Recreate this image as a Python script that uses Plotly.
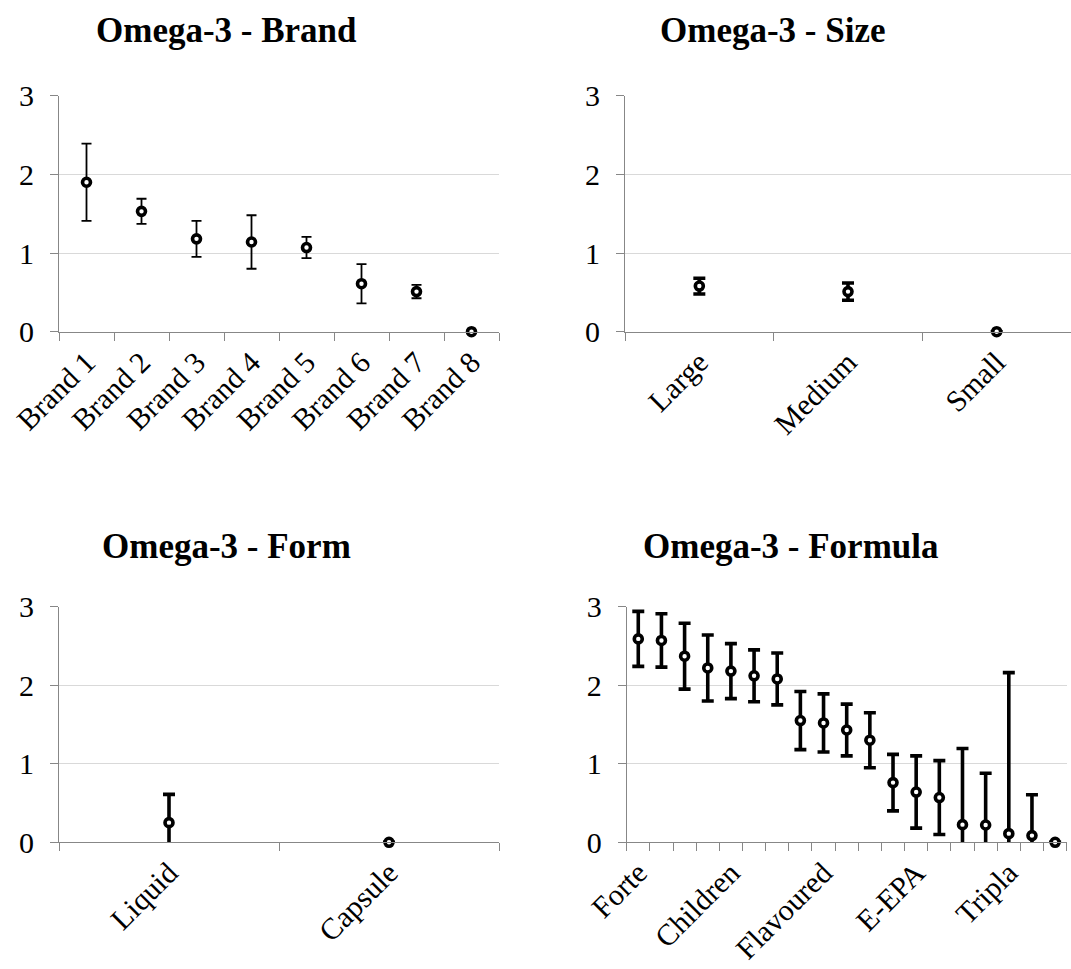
import plotly.graph_objects as go

# ---- data -----------------------------------------------------------------
brand_labels = ["Brand 1", "Brand 2", "Brand 3", "Brand 4", "Brand 5", "Brand 6", "Brand 7", "Brand 8"]
brand_mean = [1.90, 1.53, 1.18, 1.14, 1.07, 0.61, 0.51, 0.0]
brand_err = [0.49, 0.16, 0.23, 0.34, 0.135, 0.25, 0.085, 0.0]

size_labels = ["Large", "Medium", "Small"]
size_mean = [0.58, 0.51, 0.0]
size_err = [0.10, 0.11, 0.0]

form_labels = ["Liquid", "Capsule"]
form_mean = [0.25, 0.0]
form_err = [0.36, 0.0]

formula_labels = ["Forte", "", "", "", "Children", "", "", "", "Flavoured", "", "", "",
                  "E-EPA", "", "", "", "Tripla", "", ""]
formula_mean = [2.59, 2.57, 2.37, 2.22, 2.18, 2.12, 2.08, 1.55, 1.52, 1.43, 1.30,
                0.76, 0.64, 0.57, 0.225, 0.22, 0.11, 0.085, 0.0]
formula_err = [0.35, 0.34, 0.42, 0.42, 0.35, 0.33, 0.33, 0.37, 0.37, 0.33, 0.35,
               0.36, 0.46, 0.47, 0.97, 0.66, 2.05, 0.52, 0.0]

titles = ["Omega-3 - Brand", "Omega-3 - Size", "Omega-3 - Form", "Omega-3 - Formula"]

# ---- layout geometry (pixels) ---------------------------------------------
W, H = 1071, 969
FONT = "Liberation Serif"
AXIS_COL = "#878787"
GRID_COL = "#d9d9d9"

panels = [
    # labels, mean, err, x0, x1, ytop, ybot, bar thickness, cap half-width, title centre
    (brand_labels, brand_mean, brand_err, 59, 499, 95.7, 331.7, 1.8, 5, (226, 30)),
    (size_labels, size_mean, size_err, 625, 1071, 95.7, 331.7, 3.6, 6, (772, 30)),
    (form_labels, form_mean, form_err, 59, 499, 606.7, 842.3, 3.6, 6, (226, 546)),
    (formula_labels, formula_mean, formula_err, 626.7, 1066.7, 606.7, 842.3, 3.6, 6, (790, 546)),
]

fig = go.Figure()
layout = dict(
    width=W, height=H,
    margin=dict(l=0, r=0, t=0, b=0, autoexpand=False),
    paper_bgcolor="white", plot_bgcolor="white",
    showlegend=False,
    font=dict(family=FONT, color="black"),
    annotations=[],
)

for i, (labels, mean, err, x0, x1, yt, yb, thick, capw, tpos) in enumerate(panels):
    n = len(labels)
    xs = list(range(1, n + 1))
    xa = "x" if i == 0 else f"x{i + 1}"
    ya = "y" if i == 0 else f"y{i + 1}"
    bars = [e if e > 0 else None for e in err]

    # error bars (clipped to the plotting area)
    fig.add_trace(go.Scatter(
        x=xs, y=mean, mode="markers", xaxis=xa, yaxis=ya,
        marker=dict(size=1, color="rgba(0,0,0,0)"),
        error_y=dict(type="data", array=bars, visible=True, color="black",
                     thickness=thick, width=capw),
        cliponaxis=True, hoverinfo="skip",
    ))
    # open circle markers on top
    fig.add_trace(go.Scatter(
        x=xs, y=mean, mode="markers", xaxis=xa, yaxis=ya,
        marker=dict(symbol="circle", size=8, color="white",
                    line=dict(color="black", width=3.6)),
        cliponaxis=False,
    ))

    xkey = "xaxis" if i == 0 else f"xaxis{i + 1}"
    ykey = "yaxis" if i == 0 else f"yaxis{i + 1}"
    layout[xkey] = dict(
        domain=[x0 / W, x1 / W], anchor=ya, automargin=False,
        range=[0.5, n + 0.5], showgrid=False, zeroline=False,
        showline=True, linecolor=AXIS_COL, linewidth=1,
        tickmode="array", tickvals=xs, ticktext=labels, ticks="",
        tickangle=-45, tickfont=dict(family=FONT, size=30, color="black"),
        minor=dict(tickmode="array", tickvals=[k + 0.5 for k in range(n + 1)],
                   ticks="outside", ticklen=8, tickcolor=AXIS_COL, tickwidth=1,
                   showgrid=False),
        fixedrange=True,
    )
    layout[ykey] = dict(
        domain=[(H - yb) / H, (H - yt) / H], anchor=xa, automargin=False,
        range=[0, 3], tickvals=[0, 1, 2, 3],
        showgrid=True, gridcolor=GRID_COL, gridwidth=1.2, zeroline=False,
        showline=True, linecolor=AXIS_COL, linewidth=1,
        ticks="outside", ticklen=8, tickcolor=AXIS_COL, tickwidth=1,
        tickfont=dict(family=FONT, size=30, color="black"),
        ticklabelstandoff=10,
        fixedrange=True,
    )
    layout["annotations"].append(dict(
        text=f"<b>{titles[i]}</b>", xref="paper", yref="paper",
        x=tpos[0] / W, y=(H - tpos[1]) / H, xanchor="center", yanchor="middle",
        showarrow=False, font=dict(family=FONT, size=35, color="black"),
    ))

fig.update_layout(**layout)
fig.write_html("out.html")
